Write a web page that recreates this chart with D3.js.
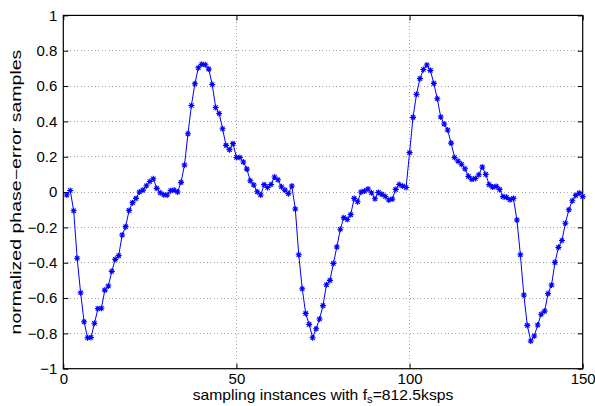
<!DOCTYPE html>
<html>
<head>
<meta charset="utf-8">
<script src="https://cdn.jsdelivr.net/npm/d3@7"></script>
<style>
  html, body { margin: 0; padding: 0; background: #fff; }
  svg { display: block; }
  text { font-family: "Liberation Sans", Arial, Helvetica, sans-serif; fill: #000; }
</style>
</head>
<body>
<svg id="chart" width="595" height="406"></svg>
<script>
// ---- data ----
const sampleIndex = d3.range(1, 151);
const phaseError = [
  -0.017, 0.009, -0.106, -0.375, -0.570, -0.734, -0.825, -0.823, -0.743, -0.660,
  -0.658, -0.555, -0.532, -0.449, -0.381, -0.360, -0.243, -0.196, -0.104, -0.060,
  -0.036, 0.000, 0.011, 0.036, 0.060, 0.075, 0.021, -0.004, -0.015, -0.017,
  0.008, 0.011, 0.000, 0.055, 0.153, 0.330, 0.490, 0.613, 0.704, 0.723,
  0.721, 0.696, 0.609, 0.479, 0.445, 0.358, 0.264, 0.240, 0.274, 0.196,
  0.196, 0.170, 0.130, 0.064, 0.040, 0.002, -0.017, 0.042, 0.026, 0.043,
  0.085, 0.070, 0.030, 0.011, -0.009, 0.034, -0.096, -0.355, -0.547, -0.687,
  -0.749, -0.825, -0.774, -0.719, -0.643, -0.525, -0.500, -0.404, -0.311, -0.211,
  -0.145, -0.155, -0.128, -0.036, -0.055, 0.000, 0.006, 0.017, -0.004, -0.038,
  -0.002, -0.013, -0.025, -0.045, -0.040, 0.015, 0.043, 0.034, 0.026, 0.223,
  0.423, 0.553, 0.642, 0.694, 0.719, 0.689, 0.615, 0.528, 0.425, 0.385,
  0.351, 0.277, 0.196, 0.175, 0.157, 0.132, 0.089, 0.072, 0.077, 0.098,
  0.142, 0.100, 0.042, 0.028, 0.032, 0.015, -0.026, -0.030, -0.043, -0.036,
  -0.158, -0.355, -0.583, -0.755, -0.843, -0.815, -0.753, -0.692, -0.674, -0.575,
  -0.526, -0.398, -0.313, -0.274, -0.177, -0.100, -0.049, -0.019, -0.006, -0.026
];
const xTickValues = [0, 50, 100, 150];
const yTickValues = [-1, -0.8, -0.6, -0.4, -0.2, 0, 0.2, 0.4, 0.6, 0.8, 1];
const xLabelMain = "sampling instances with f";
const xLabelSub = "s";
const xLabelTail = "=812.5ksps";
const yLabelText = "normalized phase\u2212error samples";

// ---- layout ----
const W = 595, H = 406;
const margin = { left: 63.3, right: 12.3, top: 15.4, bottom: 37.3 };
const iw = W - margin.left - margin.right;
const ih = H - margin.top - margin.bottom;

const svg = d3.select("#chart");
const g = svg.append("g").attr("transform", `translate(${margin.left},${margin.top})`);

const x = d3.scaleLinear().domain([0, 150]).range([0, iw]);
const y = d3.scaleLinear().domain([-1, 1]).range([ih, 0]);

const fmt = v => (v === 0 ? "0" : d3.format("")(+v.toFixed(1)));

// grid (dotted)
const grid = g.append("g").attr("class", "grid");
grid.selectAll("line.gy").data(yTickValues.filter(v => v > -1 && v < 1)).join("line")
  .attr("x1", 0).attr("x2", iw)
  .attr("y1", d => y(d)).attr("y2", d => y(d))
  .attr("stroke", "#a0a0a0").attr("stroke-width", 1).attr("stroke-dasharray", "1,2.5")
  .attr("shape-rendering", "crispEdges");
grid.selectAll("line.gx").data(xTickValues.filter(v => v > 0 && v < 150)).join("line")
  .attr("y1", 0).attr("y2", ih)
  .attr("x1", d => x(d)).attr("x2", d => x(d))
  .attr("stroke", "#a0a0a0").attr("stroke-width", 1).attr("stroke-dasharray", "1,2.5")
  .attr("shape-rendering", "crispEdges");

// axes (inward ticks, mirrored)
const tickLen = 5;
const styleAxis = sel => {
  sel.select(".domain").remove();
  sel.selectAll(".tick line").attr("stroke", "#000").attr("stroke-width", 1);
  sel.selectAll("text").attr("font-size", "15px").attr("font-family", "Liberation Sans, Arial, sans-serif");
};
g.append("g").attr("transform", `translate(0,${ih})`)
  .call(d3.axisBottom(x).tickValues(xTickValues).tickFormat(fmt).tickSizeInner(-tickLen).tickSizeOuter(0).tickPadding(5))
  .call(styleAxis);
g.append("g")
  .call(d3.axisTop(x).tickValues(xTickValues).tickFormat("").tickSizeInner(-tickLen).tickSizeOuter(0))
  .call(styleAxis);
g.append("g")
  .call(d3.axisLeft(y).tickValues(yTickValues).tickFormat(fmt).tickSizeInner(-tickLen).tickSizeOuter(0).tickPadding(6))
  .call(styleAxis);
g.append("g").attr("transform", `translate(${iw},0)`)
  .call(d3.axisRight(y).tickValues(yTickValues).tickFormat("").tickSizeInner(-tickLen).tickSizeOuter(0))
  .call(styleAxis);

// box
g.append("rect").attr("x", 0).attr("y", 0).attr("width", iw).attr("height", ih)
  .attr("fill", "none").attr("stroke", "#000").attr("stroke-width", 1.2);

// line
const pts = sampleIndex.map((d, i) => [d, phaseError[i]]);
g.append("path").datum(pts)
  .attr("fill", "none").attr("stroke", "#0000ff").attr("stroke-width", 1)
  .attr("d", d3.line().x(d => x(d[0])).y(d => y(d[1])));

// asterisk markers
const r = 3, rd = r * 0.72;
const star = `M${-r},0L${r},0M0,${-r}L0,${r}M${-rd},${-rd}L${rd},${rd}M${-rd},${rd}L${rd},${-rd}`;
g.append("g").selectAll("path").data(pts).join("path")
  .attr("transform", d => `translate(${x(d[0])},${y(d[1])})`)
  .attr("d", star).attr("stroke", "#0000ff").attr("stroke-width", 1.1).attr("fill", "none");

// x label
const xlab = svg.append("g").attr("transform", `translate(${margin.left + iw / 2},400)`);
const xt1 = xlab.append("text").attr("text-anchor", "middle").attr("font-size", "14px");
xt1.append("tspan").text(xLabelMain);
xt1.append("tspan").attr("font-size", "10px").attr("dy", 3).text(xLabelSub);
xt1.append("tspan").attr("dy", -3).text(xLabelTail);
const xw = xt1.node().getBBox().width;
xt1.attr("transform", `scale(${261 / xw},1)`);

// y label
const ylab = svg.append("g").attr("transform", `translate(21,${margin.top + ih / 2}) rotate(-90)`);
const yt1 = ylab.append("text").attr("text-anchor", "middle").attr("font-size", "14px").text(yLabelText);
const yw = yt1.node().getBBox().width;
yt1.attr("transform", `scale(${285 / yw},1)`);
</script>
</body>
</html>
